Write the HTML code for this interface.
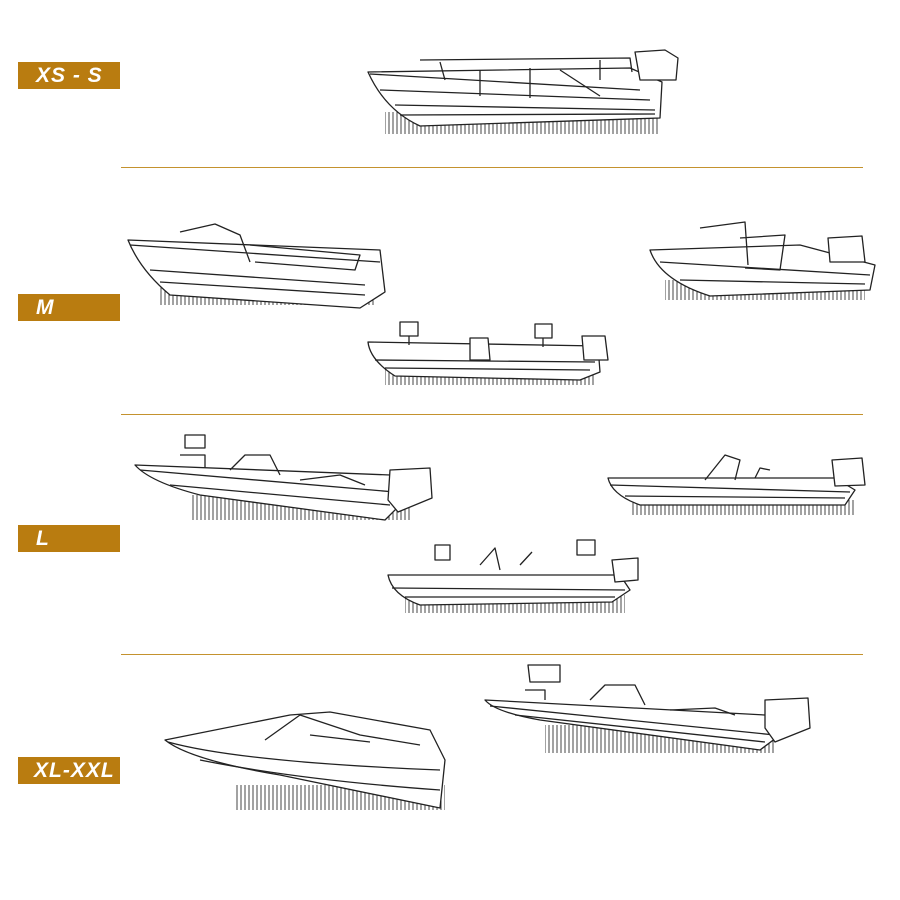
<!DOCTYPE html>
<html><head><style>
body{margin:0;background:#fff;width:900px;height:900px;overflow:hidden;position:relative;font-family:"Liberation Sans",sans-serif}
.lab{position:absolute;left:18px;width:102px;height:27px;background:#b97c10;color:#fff;font-weight:bold;font-style:italic;font-size:21px;line-height:27px;box-sizing:border-box;padding-left:18px;letter-spacing:1px}
.hr{position:absolute;left:121px;width:742px;height:1px;background:#c4922e}
svg{position:absolute;left:0;top:0}
</style></head><body>
<div class="lab" style="top:62px">XS - S</div>
<div class="lab" style="top:294px">M</div>
<div class="lab" style="top:525px">L</div>
<div class="lab" style="top:757px;padding-left:16px">XL-XXL</div>
<div class="hr" style="top:167px"></div>
<div class="hr" style="top:414px"></div>
<div class="hr" style="top:654px"></div>
<svg width="900" height="900" viewBox="0 0 900 900" fill="none" stroke="#222" stroke-width="1.3" stroke-linejoin="round">
<defs>
<pattern id="h" width="4" height="10" patternUnits="userSpaceOnUse"><line x1="1" y1="0" x2="1" y2="10" stroke="#444" stroke-width="1"/></pattern>
</defs>
<!-- XS-S boat -->
<rect x="385" y="112" width="275" height="22" fill="url(#h)" stroke="none"/>
<path d="M368 72 L630 68 L662 82 L660 118 L420 126 Q385 110 368 72Z" fill="#fff"/>
<path d="M370 74 L640 90 M380 90 L650 100 M395 105 L655 110 M400 115 L655 114"/>
<path d="M420 60 L630 58 L632 72 M480 70 L480 96 M530 68 L530 98 M560 70 L600 96 M440 62 L445 80 M600 60 L600 80"/>
<path d="M635 52 L665 50 L678 58 L676 80 L640 80Z" fill="#fff"/>
<!-- M left -->
<rect x="160" y="285" width="215" height="20" fill="url(#h)" stroke="none"/>
<path d="M128 240 L380 250 L385 292 L360 308 L170 295 Q140 270 128 240Z" fill="#fff"/>
<path d="M130 245 L380 262 M150 270 L365 285 M160 282 L365 295 M180 232 L215 224 L240 235 L250 262"/>
<path d="M250 245 L360 255 L355 270 L255 262"/>
<!-- M center -->
<rect x="385" y="365" width="210" height="20" fill="url(#h)" stroke="none"/>
<path d="M368 342 L598 346 L600 372 L580 380 L395 376 Q370 360 368 342Z" fill="#fff"/>
<path d="M375 360 L595 362 M385 368 L590 370 M400 322 L418 322 L418 336 L400 336Z M535 324 L552 324 L552 338 L535 338Z M409 336 L409 345 M543 338 L543 347"/>
<path d="M470 338 L488 338 L490 360 L470 360Z M582 336 L605 336 L608 360 L584 360Z" fill="#fff"/>
<!-- M right -->
<rect x="665" y="280" width="200" height="20" fill="url(#h)" stroke="none"/>
<path d="M650 250 L800 245 L875 265 L870 290 L710 296 Q660 280 650 250Z" fill="#fff"/>
<path d="M700 228 L745 222 L748 265 M740 238 L785 235 L780 270 L745 268"/>
<path d="M828 238 L862 236 L865 262 L830 262Z" fill="#fff"/>
<path d="M660 262 L870 275 M680 280 L865 284"/>
<!-- L left -->
<rect x="190" y="495" width="220" height="25" fill="url(#h)" stroke="none"/>
<path d="M135 465 L390 475 L400 505 L385 520 L200 495 Q150 482 135 465Z" fill="#fff"/>
<path d="M140 470 L395 492 M170 485 L390 505 M180 455 L205 455 L205 468 M185 435 L205 435 L205 448 L185 448Z"/>
<path d="M390 470 L430 468 L432 498 L398 512 L388 500Z" fill="#fff"/>
<path d="M230 470 L245 455 L270 455 L280 475 M300 480 L340 475 L365 485"/>
<!-- L right -->
<rect x="630" y="500" width="225" height="15" fill="url(#h)" stroke="none"/>
<path d="M608 478 L835 478 L855 490 L845 505 L640 505 Q612 495 608 478Z" fill="#fff"/>
<path d="M610 485 L850 492 M625 496 L845 498 M705 480 L725 455 L740 460 L735 480 M755 478 L760 468 L770 470"/>
<path d="M832 460 L862 458 L865 485 L835 486Z" fill="#fff"/>
<!-- L bottom -->
<rect x="405" y="595" width="220" height="18" fill="url(#h)" stroke="none"/>
<path d="M388 575 L620 575 L630 590 L612 602 L420 605 Q392 595 388 575Z" fill="#fff"/>
<path d="M392 588 L625 590 M405 597 L615 597 M435 545 L450 545 L450 560 L435 560Z M577 540 L595 540 L595 555 L577 555Z M480 565 L495 548 L500 570 M520 565 L532 552"/>
<path d="M612 560 L638 558 L638 580 L615 582Z" fill="#fff"/>
<!-- XL left -->
<rect x="235" y="785" width="210" height="25" fill="url(#h)" stroke="none"/>
<path d="M165 740 L290 715 L330 712 L430 730 L445 760 L440 808 L280 775 Q190 760 165 740Z" fill="#fff"/>
<path d="M168 742 Q240 762 440 770 M200 760 Q300 780 440 790 M265 740 L300 715 L360 735 L420 745 M310 735 L370 742"/>
<!-- XL right -->
<rect x="545" y="725" width="230" height="28" fill="url(#h)" stroke="none"/>
<path d="M485 700 L765 715 L780 735 L760 750 L540 720 Q495 712 485 700Z" fill="#fff"/>
<path d="M490 706 L775 735 M515 715 L765 742 M525 690 L545 690 L545 700 M528 665 L560 665 L560 682 L530 682Z"/>
<path d="M765 700 L808 698 L810 728 L775 742 L765 728Z" fill="#fff"/>
<path d="M590 700 L605 685 L635 685 L645 705 M670 710 L715 708 L735 715"/>
</svg>
</body></html>
